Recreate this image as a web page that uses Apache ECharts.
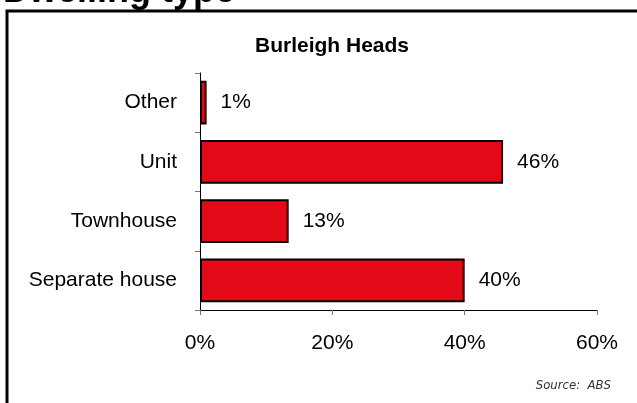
<!DOCTYPE html>
<html>
<head>
<meta charset="utf-8">
<title>Dwelling type</title>
<script src="https://cdn.jsdelivr.net/npm/echarts@6/dist/echarts.min.js"></script>
<style>
  html, body { margin: 0; padding: 0; background: #fff; }
  #main { width: 637px; height: 403px; }
</style>
</head>
<body>
<div id="main"></div>
<script>
// data (bottom category first)
var categories = ['Separate house', 'Townhouse', 'Unit', 'Other'];
var shares = [40.0, 13.4, 45.8, 1.0];
var xTicks = { min: 0, max: 60, step: 20 };

var font = "Arial, 'Liberation Sans', sans-serif";

var myChart = echarts.init(document.getElementById('main'));

var option = {
  backgroundColor: '#fff',
  animation: false,
  title: {
    text: 'Burleigh Heads',
    left: 327,
    top: 31,
    textAlign: 'center',
    textStyle: { fontFamily: font, fontSize: 21, fontWeight: 'bold', color: '#000' }
  },
  graphic: [
    // outer frame, runs off the right and bottom edges
    {
      type: 'rect',
      shape: { x: 7, y: 11, width: 700, height: 500 },
      style: { fill: 'none', stroke: '#000', lineWidth: 3 },
      z: 0
    },
    // page heading, cut off at the top
    {
      type: 'text',
      left: 3,
      top: -26,
      style: {
        text: 'Dwelling type',
        font: 'bold 36px ' + font,
        fill: '#000'
      }
    },
    {
      type: 'text',
      right: 26,
      top: 379,
      style: {
        text: 'Source:  ABS',
        font: "italic 13px 'Liberation Sans Narrow', 'DejaVu Sans Condensed', Arial, sans-serif",
        fill: '#333'
      }
    }
  ],
  grid: {
    left: 200,
    right: 40,
    top: 73,
    bottom: 93,
    containLabel: false
  },
  xAxis: {
    type: 'value',
    min: xTicks.min,
    max: xTicks.max,
    interval: xTicks.step,
    axisLine: { show: true, lineStyle: { color: '#000', width: 1 } },
    axisTick: { show: true, length: 5, lineStyle: { color: '#777' } },
    splitLine: { show: false },
    axisLabel: {
      formatter: '{value}%',
      margin: 23,
      fontFamily: font,
      fontSize: 21,
      color: '#000'
    }
  },
  yAxis: {
    type: 'category',
    data: categories,
    axisLine: { show: true, lineStyle: { color: '#000', width: 1 } },
    axisTick: { show: true, length: 5, lineStyle: { color: '#777' } },
    axisLabel: {
      margin: 23,
      fontFamily: font,
      fontSize: 21,
      color: '#000'
    }
  },
  series: [{
    type: 'bar',
    data: shares,
    barCategoryGap: '26%',
    itemStyle: {
      color: '#E20A18',
      borderColor: '#000',
      borderWidth: 2
    },
    label: {
      show: true,
      position: 'right',
      distance: 14,
      formatter: function (p) { return Math.round(p.value) + '%'; },
      fontFamily: font,
      fontSize: 21,
      color: '#000'
    }
  }]
};

myChart.setOption(option);
</script>
</body>
</html>
